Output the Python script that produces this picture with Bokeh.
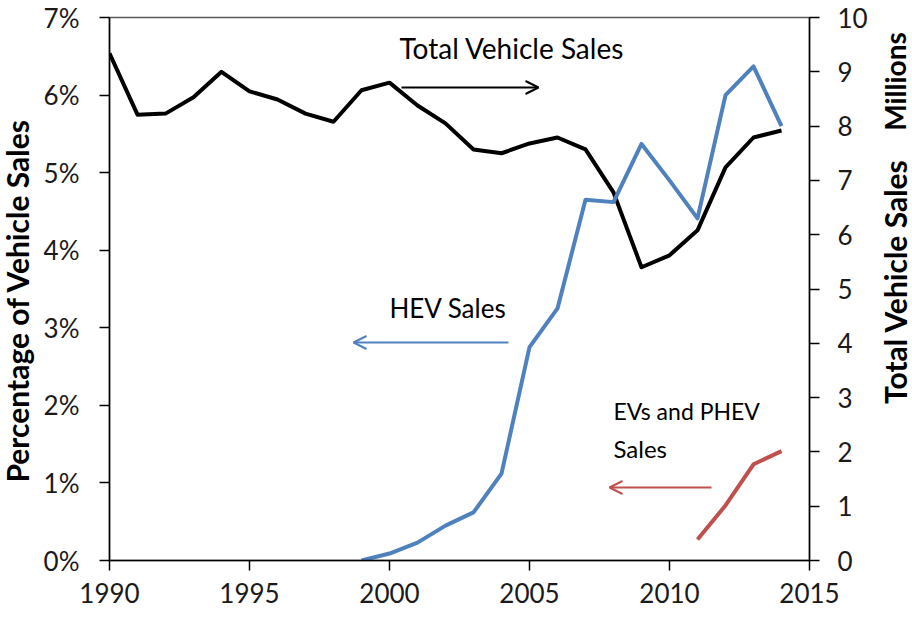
from bokeh.plotting import figure
from bokeh.models import Range1d, LinearAxis, FixedTicker, Label, Arrow, OpenHead
from bokeh.layouts import row
from bokeh.embed import file_html
from bokeh.resources import INLINE
import math

# ---------------- data ----------------
total_years = list(range(1990, 2015))
total_sales_millions = [9.34, 8.21, 8.23, 8.53, 9.00, 8.64, 8.49, 8.23, 8.08, 8.66,
                        8.80, 8.38, 8.05, 7.57, 7.50, 7.68, 7.79, 7.57, 6.78, 5.40,
                        5.62, 6.08, 7.24, 7.79, 7.92]

hev_years = list(range(1999, 2015))
hev_share_pct = [0.00, 0.09, 0.23, 0.45, 0.62, 1.12, 2.75, 3.25, 4.65, 4.62,
                 5.37, 4.90, 4.41, 6.00, 6.37, 5.60]

ev_years = [2011, 2012, 2013, 2014]
ev_share_pct = [0.27, 0.71, 1.24, 1.41]

x_ticks = [1990, 1995, 2000, 2005, 2010, 2015]
pct_ticks = [0, 1, 2, 3, 4, 5, 6, 7]
pct_labels = ["0%", "1%", "2%", "3%", "4%", "5%", "6%", "7%"]
mil_ticks = [0, 1, 2, 3, 4, 5, 6, 7, 8, 9, 10]

FONT = "Lato"
BLUE = "#4F81BD"
RED = "#C0504D"

STRIP_L = 40
BORDER_L = 68
FRAME_W = 700
BORDER_R = 62
STRIP_R = 912 - STRIP_L - BORDER_L - FRAME_W - BORDER_R
H = 610

p = figure(frame_width=FRAME_W, frame_height=543,
           x_range=Range1d(1990, 2015), y_range=Range1d(0, 7),
           output_backend="svg", toolbar_location=None,
           min_border_left=BORDER_L, min_border_right=BORDER_R,
           min_border_top=17, min_border_bottom=50)
p.extra_y_ranges = {"mil": Range1d(0, 10)}
p.grid.visible = False
p.outline_line_color = "#595959"
p.outline_line_width = 1.5
p.background_fill_color = "white"
p.border_fill_color = "white"

def style_axis(ax, standoff):
    ax.axis_line_color = "black"
    ax.axis_line_width = 1.5
    ax.major_tick_line_color = "black"
    ax.major_tick_line_width = 1.5
    ax.major_tick_out = 10
    ax.major_tick_in = 0
    ax.minor_tick_line_color = None
    ax.major_label_text_font = FONT
    ax.major_label_text_font_size = "26px"
    ax.major_label_text_color = "#1a1a1a"
    ax.major_label_standoff = standoff

xa = p.xaxis[0]
xa.ticker = FixedTicker(ticks=x_ticks)
style_axis(xa, 12)

ya = p.yaxis[0]
ya.ticker = FixedTicker(ticks=pct_ticks)
ya.major_label_overrides = {t: l for t, l in zip(pct_ticks, pct_labels)}
style_axis(ya, 20)

ra = LinearAxis(y_range_name="mil", ticker=FixedTicker(ticks=mil_ticks))
style_axis(ra, 18)
p.add_layout(ra, "right")

# ---------------- lines ----------------
p.line(total_years, total_sales_millions, y_range_name="mil", line_color="black",
       line_width=4, line_join="round")
p.line(hev_years, hev_share_pct, line_color=BLUE, line_width=4, line_join="round")
p.line(ev_years, ev_share_pct, line_color=RED, line_width=4, line_join="round")

# ---------------- annotations ----------------
def px_to_x(px):
    return 1990 + (px - 108) / 28.0

def py_to_pct(py):
    return (560 - py) / 77.57

def txt(s, px, py, size="26px"):
    p.add_layout(Label(x=px_to_x(px), y=py_to_pct(py), text=s, text_font=FONT,
                       text_font_size=size, text_align="left",
                       text_baseline="middle", text_color="black"))

txt("Total Vehicle Sales", 398, 48, size="28px")
txt("HEV Sales", 388, 308, size="26px")
txt("EVs and PHEV", 612, 411, size="23px")
txt("Sales", 612, 448, size="24px")

def arrow(x0, x1, py, color):
    p.add_layout(Arrow(end=OpenHead(size=13, line_color=color, line_width=2),
                       x_start=px_to_x(x0), y_start=py_to_pct(py),
                       x_end=px_to_x(x1), y_end=py_to_pct(py),
                       line_color=color, line_width=2))

arrow(400, 537, 87, "black")
arrow(507, 352, 342, BLUE)
arrow(710, 608, 487, RED)

# ---------------- axis title strips (window-pixel coordinates) ----------------
def strip(x0, x1):
    q = figure(title=None, frame_width=x1 - x0, frame_height=H,
               x_range=Range1d(x0, x1), y_range=Range1d(H, 0),
               x_axis_type=None, y_axis_type=None,
               output_backend="svg", toolbar_location=None,
               min_border_left=0, min_border_right=0,
               min_border_top=0, min_border_bottom=0)
    q.grid.visible = False
    q.outline_line_color = None
    q.background_fill_color = "white"
    q.border_fill_color = "white"
    return q

def vtitle(q, s, cx, cy, size):
    q.add_layout(Label(x=cx, y=cy, text=s, text_font=FONT, text_font_size=size,
                       text_font_style="bold", angle=math.pi / 2,
                       text_align="center", text_baseline="middle",
                       text_color="black"))

left_strip = strip(0, STRIP_L)
vtitle(left_strip, "Percentage of Vehicle Sales", 16, 283, "30px")

rx0 = 912 - STRIP_R
right_strip = strip(rx0, 912)
vtitle(right_strip, "Total Vehicle Sales", 893, 264, "30px")
vtitle(right_strip, "Millions", 893, 64, "28px")

layout = row(left_strip, p, right_strip, spacing=0)
open("out.html", "w").write(file_html(layout, INLINE))
